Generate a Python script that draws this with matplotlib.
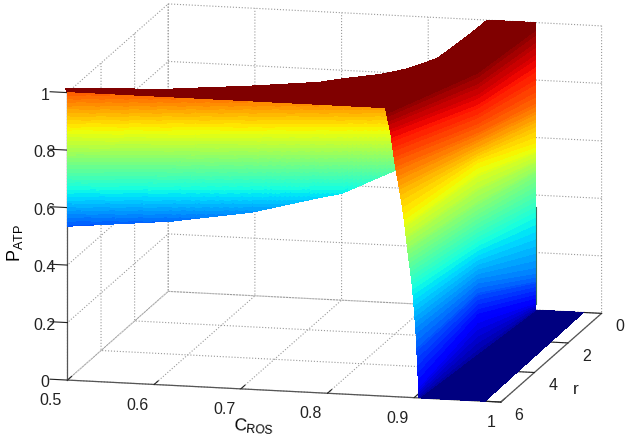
import numpy as np
import matplotlib
matplotlib.use('Agg')
import matplotlib.pyplot as plt
from matplotlib.colors import Normalize

plt.rcParams['font.family'] = ['Liberation Sans', 'DejaVu Sans']
plt.rcParams['mathtext.default'] = 'regular'

# tick labels
c_ticks = [0.5, 0.6, 0.7, 0.8, 0.9, 1]
r_ticks = [0, 2, 4, 6]
p_ticks = [0, 0.2, 0.4, 0.6, 0.8, 1]
c_labels = ['0.5', '0.6', '0.7', '0.8', '0.9', '1']
r_labels = ['0', '2', '4', '6']
p_labels = ['0', '0.2', '0.4', '0.6', '0.8', '1']

# front sheet, at r=6: lower edge, upper edge at P=1
front_c = [0.5, 0.62, 0.712, 0.793, 0.816, 0.879]
front_low = [0.535, 0.571, 0.616, 0.681, 0.697, 0.789]

# top sheet: front edge (r=6, P=1) and back edge (r=0)
top_front_c = [0.5, 0.5, 0.52, 0.593, 0.674, 0.696, 0.746, 0.774, 0.798, 0.812, 0.832, 0.85, 0.867]
top_back_c = [0.381, 0.5, 0.52, 0.593, 0.674, 0.697, 0.746, 0.774, 0.798, 0.812, 0.832, 0.85, 0.868]
top_back_p = [0.688, 0.703, 0.709, 0.728, 0.754, 0.768, 0.793, 0.815, 0.843, 0.860, 0.897, 0.952, 1.0]

# falling wall: one row per colour level, columns at r=6, r=3, r=0
wall_level = [1.0, 1.0, 0.9, 0.8, 0.7, 0.65, 0.5, 0.38, 0.25, 0.12, 0.03]
wall_c6 = [0.867, 0.867, 0.873, 0.878, 0.884, 0.888, 0.893, 0.898, 0.902, 0.905, 0.9055]
wall_p6 = [1.0, 1.0, 0.916, 0.81, 0.706, 0.63, 0.503, 0.385, 0.234, 0.042, 0.0]
wall_c3 = [0.8675, 0.9148, 0.9148, 0.9148, 0.9148, 0.9148, 0.9148, 0.9148, 0.9148, 0.9148, 0.9148]
wall_p3 = [1.0, 1.0, 0.883, 0.777, 0.70, 0.662, 0.508, 0.382, 0.253, 0.124, 0.0]
wall_c0 = [0.868, 0.924, 0.924, 0.924, 0.924, 0.924, 0.924, 0.924, 0.924, 0.924, 0.924]
wall_p0 = [1.0, 1.0, 0.867, 0.727, 0.64, 0.577, 0.472, 0.332, 0.133, 0.028, 0.0]

# floor at P=0
floor_c6 = [0.9055, 0.9816]
floor_c0 = [0.924, 0.979]

# thin dark sliver on the right edge of the wall
sliver_p = [0.02, 0.36]

jet = plt.get_cmap('jet', 64)


def fine(values, n):
    # only thins the mesh for the colour bands, the values above stay the read ones
    values = np.asarray(values, dtype=float)
    return np.interp(np.linspace(0, len(values) - 1, n), np.arange(len(values)), values)


fig = plt.figure(figsize=(6.3, 4.41), dpi=100)
ax = fig.add_axes([11 / 630, (441 - 202.5 - 315 - 9) / 441, 630 / 630, 630 / 441], projection='3d', computed_zorder=False)
ax.set_proj_type('ortho')
ax.view_init(elev=12.2, azim=-76.5)
ax.set_box_aspect((444, 430, 293), zoom=1.058)

# floor
X = np.array([floor_c6, floor_c0])
Y = np.array([[6, 6], [0, 0]], dtype=float)
Z = np.zeros((2, 2))
ax.plot_surface(X, Y, Z, color=jet(0), shade=False, antialiased=False, linewidth=0, zorder=1)

# top sheet
n = 120
tc6 = fine(top_front_c, n)
tc0 = fine(top_back_c, n)
tp0 = fine(top_back_p, n)
X = np.array([tc6, tc0])
Y = np.array([np.full(n, 6.0), np.zeros(n)])
Z = np.array([np.ones(n), tp0])
ax.plot_surface(X, Y, Z, color=jet(63), shade=False, antialiased=False, linewidth=0,
                rstride=1, cstride=1, zorder=2)

# front sheet, bands run level across the picture
k = 70
h = 110
fc = np.linspace(front_c[0], front_c[-1], k)
low = np.interp(fc, front_c, front_low)
t = np.linspace(0, 1, h)[:, None]
X = np.repeat(fc[None, :], h, axis=0)
Y = np.full((h, k), 6.0)
Z = low + (1 - low) * t
norm = Normalize(0.369, 1.147)
cols = jet(norm(Z - 0.154 * (X - 0.5)))
ax.plot_surface(X, Y, Z, facecolors=cols, shade=False, antialiased=False, linewidth=0,
                rstride=1, cstride=1, zorder=3)

# falling wall
m = 160
lev = fine(wall_level, m)
X = np.array([fine(wall_c6, m), fine(wall_c3, m), fine(wall_c0, m)]).T
Y = np.array([np.full(m, 6.0), np.full(m, 3.0), np.zeros(m)]).T
Z = np.array([fine(wall_p6, m), fine(wall_p3, m), fine(wall_p0, m)]).T
cols = np.repeat(jet(lev)[:, None, :], 3, axis=1)
ax.plot_surface(X, Y, Z, facecolors=cols, shade=False, antialiased=False, linewidth=0,
                rstride=1, cstride=1, zorder=4)

ax.plot([0.924, 0.924], [0, 0], sliver_p, color='#3c6e5a', lw=0.8, zorder=5)

# plot_surface autoscales, so the limits go after it
ax.set_xlim(0.5, 1)
ax.set_ylim(6, 0)
ax.set_zlim(0, 1)

ax.set_xticks(c_ticks)
ax.set_xticklabels(c_labels, ha='right', va='center')
ax.set_yticks(r_ticks)
ax.set_yticklabels(r_labels, va='center')
ax.set_zticks(p_ticks)
ax.set_zticklabels(p_labels, va='center')
ax.tick_params(labelsize=11.5, colors='#222222', pad=2)
ax.xaxis.set_tick_params(pad=5)
ax.yaxis.set_tick_params(pad=2)

ax.set_xlabel('$C_{ROS}$', fontsize=12.5, labelpad=2)
ax.set_zlabel('$P_{ATP}$', fontsize=13, labelpad=2)
ax.zaxis.set_rotate_label(False)
ax.zaxis.label.set_rotation(90)
ax.zaxis._axinfo['juggled'] = (1, 2, 0)
ax.xaxis._axinfo['label']['ha'] = 'right'
fig.text(576 / 630, 1 - 390 / 441, 'r', fontsize=12.5, ha='center', va='center', color='#222222')

for axis in (ax.xaxis, ax.yaxis, ax.zaxis):
    axis.set_pane_color((1, 1, 1, 0))
    axis.pane.set_edgecolor((1, 1, 1, 0))
    axis.line.set_color('#555555')
    axis.line.set_linewidth(0.9)
    axis._axinfo['grid'].update(color='#999999', linestyle=':', linewidth=0.8)
    axis._axinfo['tick'].update(inward_factor=0.0, outward_factor=0.5, linewidth={True: 0.8, False: 0.8}, color='#555555')

fig.savefig('out.png', dpi=100)
